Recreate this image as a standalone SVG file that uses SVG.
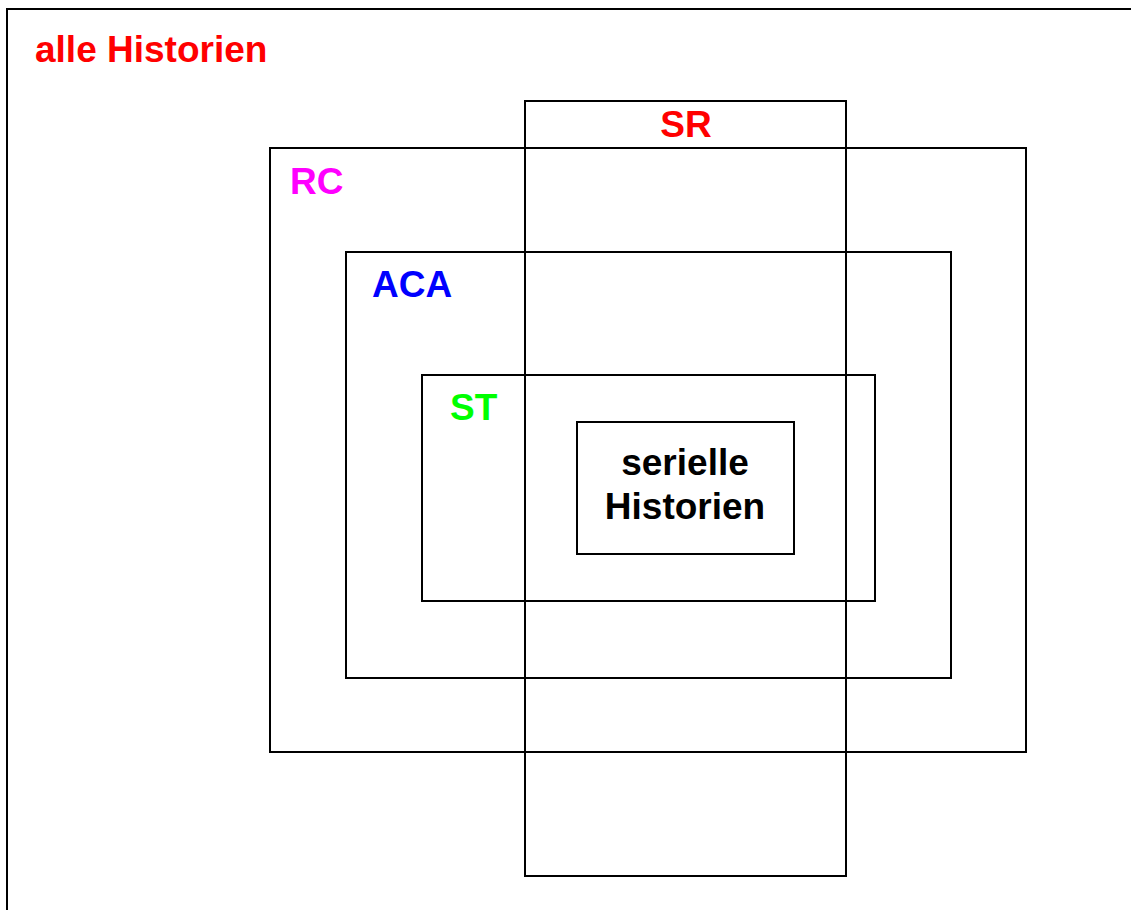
<svg xmlns="http://www.w3.org/2000/svg" width="1131" height="910" viewBox="0 0 1131 910">
<style>
rect.b{fill:none;stroke:#000;stroke-width:2}
text{font-family:"Liberation Sans",Arial,sans-serif;font-weight:bold;font-size:37px}
</style>
<rect x="0" y="0" width="1131" height="910" fill="#fff"/>
<g id="alle">
<rect class="b" x="7" y="9" width="1140" height="920"/>
<text x="35" y="62" fill="#ff0000">alle Historien</text>
</g>
<g id="RC">
<rect class="b" x="270" y="148" width="756" height="604"/>
<text x="290" y="194" fill="#ff00ff">RC</text>
</g>
<g id="ACA">
<rect class="b" x="346" y="252" width="605" height="426"/>
<text x="372" y="297" fill="#0000ff">ACA</text>
</g>
<g id="SR">
<rect class="b" x="525" y="101" width="321" height="775"/>
<text x="686" y="137" fill="#ff0000" text-anchor="middle">SR</text>
</g>
<g id="ST">
<rect class="b" x="422" y="375" width="453" height="226"/>
<text x="450" y="420" fill="#00ff00">ST</text>
</g>
<g id="seriell">
<rect class="b" x="577" y="422" width="217" height="132"/>
<text x="685" y="475" fill="#000" text-anchor="middle">serielle</text>
<text x="685" y="519" fill="#000" text-anchor="middle">Historien</text>
</g>
<g id="connectors"></g>
</svg>
